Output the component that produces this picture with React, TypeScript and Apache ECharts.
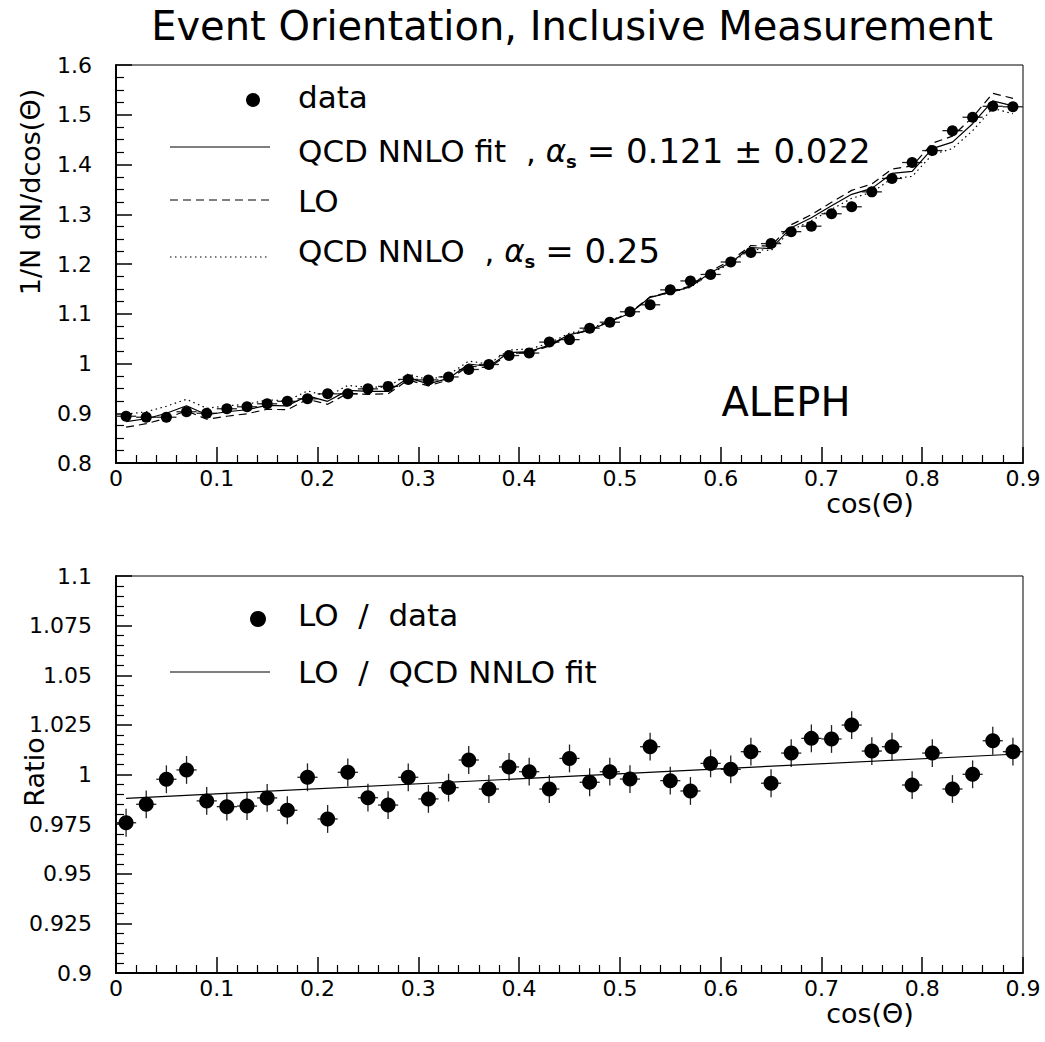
import React, { useEffect, useRef } from "react";
import * as echarts from "echarts";

const FONT = "DejaVu Sans";

const X_CENTERS = [
  0.01, 0.03, 0.05, 0.07, 0.09, 0.11, 0.13, 0.15, 0.17, 0.19,
  0.21, 0.23, 0.25, 0.27, 0.29, 0.31, 0.33, 0.35, 0.37, 0.39,
  0.41, 0.43, 0.45, 0.47, 0.49, 0.51, 0.53, 0.55, 0.57, 0.59,
  0.61, 0.63, 0.65, 0.67, 0.69, 0.71, 0.73, 0.75, 0.77, 0.79,
  0.81, 0.83, 0.85, 0.87, 0.89,
];

const DATA_VALUES = [
  0.894, 0.892, 0.892, 0.903, 0.9, 0.909, 0.913, 0.919, 0.924, 0.929,
  0.939, 0.939, 0.949, 0.954, 0.968, 0.967, 0.973, 0.988, 0.998, 1.016,
  1.021, 1.043, 1.048, 1.071, 1.083, 1.104, 1.118, 1.148, 1.166, 1.179,
  1.204, 1.223, 1.241, 1.265, 1.276, 1.301, 1.315, 1.345, 1.372, 1.404,
  1.428, 1.468, 1.495, 1.517, 1.516,
];

const FIT_VALUES = [
  0.883, 0.889, 0.9, 0.915, 0.897, 0.903, 0.907, 0.916, 0.915, 0.935,
  0.924, 0.946, 0.944, 0.944, 0.971, 0.959, 0.97, 0.999, 0.994, 1.022,
  1.024, 1.037, 1.058, 1.067, 1.084, 1.101, 1.133, 1.143, 1.154, 1.183,
  1.203, 1.233, 1.231, 1.273, 1.293, 1.317, 1.34, 1.352, 1.382, 1.386,
  1.432, 1.445, 1.482, 1.528, 1.518,
];

const LO_VALUES = [
  0.872, 0.879, 0.89, 0.905, 0.888, 0.894, 0.899, 0.908, 0.907, 0.928,
  0.918, 0.94, 0.938, 0.939, 0.967, 0.955, 0.967, 0.995, 0.991, 1.02,
  1.022, 1.035, 1.057, 1.067, 1.085, 1.102, 1.134, 1.144, 1.156, 1.186,
  1.207, 1.237, 1.236, 1.279, 1.299, 1.324, 1.348, 1.361, 1.391, 1.397,
  1.443, 1.457, 1.495, 1.543, 1.533,
];

const NNLO_025_VALUES = [
  0.898, 0.903, 0.914, 0.928, 0.91, 0.915, 0.918, 0.927, 0.925, 0.945,
  0.934, 0.956, 0.952, 0.953, 0.979, 0.967, 0.977, 1.005, 0.999, 1.027,
  1.029, 1.041, 1.061, 1.07, 1.086, 1.102, 1.133, 1.143, 1.153, 1.181,
  1.201, 1.23, 1.227, 1.268, 1.287, 1.31, 1.332, 1.344, 1.372, 1.376,
  1.42, 1.432, 1.468, 1.513, 1.502,
];

const RATIO_VALUES = [
  0.9757, 0.985, 0.9976, 1.0023, 0.9867, 0.9838, 0.9841, 0.9882, 0.982, 0.9986,
  0.9776, 1.0011, 0.9883, 0.9846, 0.9986, 0.9877, 0.9934, 1.0073, 0.9927, 1.0038,
  1.0014, 0.9927, 1.0081, 0.9961, 1.0014, 0.9977, 1.014, 0.9969, 0.9917, 1.0056,
  1.0026, 1.0115, 0.9956, 1.0108, 1.0182, 1.0179, 1.0249, 1.0118, 1.014, 0.9947,
  1.0108, 0.9927, 1.0001, 1.017, 1.0115,
];

const RATIO_FIT_X = [0.01, 0.89];
const RATIO_FIT_Y = [0.988, 1.0102];

const BIN_HALF = 0.01;
const DATA_ERR = 0.004;
const RATIO_ERR = 0.007;

const fmt = (v: number) => String(Number(v.toFixed(3)));

function errRender(params: any, api: any) {
  const x = api.value(0);
  const y = api.value(1);
  const ex = api.value(2);
  const ey = api.value(3);
  const l = api.coord([x - ex, y]);
  const r = api.coord([x + ex, y]);
  const t = api.coord([x, y + ey]);
  const b = api.coord([x, y - ey]);
  const st = { stroke: "#222", lineWidth: 1.3 };
  return {
    type: "group",
    children: [
      { type: "line", shape: { x1: l[0], y1: l[1], x2: r[0], y2: r[1] }, style: st },
      { type: "line", shape: { x1: t[0], y1: t[1], x2: b[0], y2: b[1] }, style: st },
    ],
  };
}

function xAxisCfg(gridIndex: number) {
  return {
    type: "value",
    gridIndex,
    min: 0,
    max: 0.9,
    interval: 0.1,
    axisLine: { show: true, onZero: false, lineStyle: { color: "#000", width: 2 } },
    axisTick: { show: true, inside: true, length: 16, lineStyle: { color: "#000", width: 1.5 } },
    minorTick: { show: true, splitNumber: 5, length: 8, lineStyle: { color: "#000", width: 1.2 } },
    splitLine: { show: false },
    minorSplitLine: { show: false },
    axisLabel: { formatter: fmt, fontFamily: FONT, fontSize: 22, lineHeight: 20, color: "#000", margin: 5 },
  };
}

function yAxisCfg(gridIndex: number, min: number, max: number, interval: number, minorSplit: number) {
  return {
    type: "value",
    gridIndex,
    min,
    max,
    interval,
    axisLine: { show: true, onZero: false, lineStyle: { color: "#000", width: 2 } },
    axisTick: { show: true, inside: true, length: 16, lineStyle: { color: "#000", width: 1.5 } },
    minorTick: { show: true, splitNumber: minorSplit, length: 8, lineStyle: { color: "#000", width: 1.2 } },
    splitLine: { show: false },
    minorSplitLine: { show: false },
    axisLabel: { formatter: fmt, fontFamily: FONT, fontSize: 22, color: "#000", margin: 24 },
  };
}

function legendText(x: number, y: number, text: string) {
  return {
    type: "text",
    x,
    y,
    style: {
      text,
      fontFamily: FONT,
      fontSize: 31,
      fill: "#000",
      verticalAlign: "middle",
      align: "left",
      lineHeight: 38,
      rich: {
        a: { fontFamily: FONT, fontSize: 31, fontStyle: "italic", fill: "#000", lineHeight: 38 },
        s: { fontFamily: FONT, fontSize: 18, fontWeight: "bold", fill: "#000", lineHeight: 18, verticalAlign: "bottom" },
        n: { fontFamily: FONT, fontSize: 34, fill: "#000", lineHeight: 38 },
      },
    },
  };
}

export default function App() {
  const ref = useRef<HTMLDivElement>(null);

  useEffect(() => {
    if (!ref.current) return;
    const chart = echarts.init(ref.current, null, { renderer: "svg" });

    const topData = X_CENTERS.map((x, i) => [x, DATA_VALUES[i]]);
    const topErr = X_CENTERS.map((x, i) => [x, DATA_VALUES[i], BIN_HALF, DATA_ERR]);
    const ratioData = X_CENTERS.map((x, i) => [x, RATIO_VALUES[i]]);
    const ratioErr = X_CENTERS.map((x, i) => [x, RATIO_VALUES[i], BIN_HALF, RATIO_ERR]);
    const ratioFit = RATIO_FIT_X.map((x, i) => [x, RATIO_FIT_Y[i]]);

    const option: any = {
      animation: false,
      backgroundColor: "#fff",
      grid: [
        { left: 116, top: 65, right: 22, bottom: 579, show: true, borderColor: "#000", borderWidth: 1, backgroundColor: "transparent" },
        { left: 116, top: 576, right: 22, bottom: 69, show: true, borderColor: "#000", borderWidth: 1, backgroundColor: "transparent" },
      ],
      xAxis: [xAxisCfg(0), xAxisCfg(1)],
      yAxis: [yAxisCfg(0, 0.8, 1.6, 0.1, 4), yAxisCfg(1, 0.9, 1.1, 0.025, 5)],
      series: [
        {
          name: "QCD NNLO fit",
          type: "line",
          xAxisIndex: 0,
          yAxisIndex: 0,
          data: X_CENTERS.map((x, i) => [x, FIT_VALUES[i]]),
          symbol: "none",
          lineStyle: { color: "#000", width: 1.2, type: "solid" },
        },
        {
          name: "LO",
          type: "line",
          xAxisIndex: 0,
          yAxisIndex: 0,
          data: X_CENTERS.map((x, i) => [x, LO_VALUES[i]]),
          symbol: "none",
          lineStyle: { color: "#000", width: 1.2, type: [8, 5] },
        },
        {
          name: "QCD NNLO 0.25",
          type: "line",
          xAxisIndex: 0,
          yAxisIndex: 0,
          data: X_CENTERS.map((x, i) => [x, NNLO_025_VALUES[i]]),
          symbol: "none",
          lineStyle: { color: "#000", width: 1.2, type: [1.5, 3.5] },
        },
        {
          name: "data err",
          type: "custom",
          xAxisIndex: 0,
          yAxisIndex: 0,
          renderItem: errRender,
          data: topErr,
          encode: { x: 0, y: 1 },
          z: 3,
        },
        {
          name: "data",
          type: "scatter",
          xAxisIndex: 0,
          yAxisIndex: 0,
          data: topData,
          symbol: "circle",
          symbolSize: 11,
          itemStyle: { color: "#000", opacity: 1 },
          z: 4,
        },
        {
          name: "LO / QCD NNLO fit",
          type: "line",
          xAxisIndex: 1,
          yAxisIndex: 1,
          data: ratioFit,
          symbol: "none",
          lineStyle: { color: "#000", width: 1.2 },
        },
        {
          name: "ratio err",
          type: "custom",
          xAxisIndex: 1,
          yAxisIndex: 1,
          renderItem: errRender,
          data: ratioErr,
          encode: { x: 0, y: 1 },
          z: 3,
        },
        {
          name: "LO / data",
          type: "scatter",
          xAxisIndex: 1,
          yAxisIndex: 1,
          data: ratioData,
          symbol: "circle",
          symbolSize: 15,
          itemStyle: { color: "#000", opacity: 1 },
          z: 4,
        },
      ],
      graphic: [
        {
          type: "text",
          x: 572,
          y: 26,
          style: { text: "Event Orientation, Inclusive Measurement", fontFamily: FONT, fontSize: 40, fill: "#000", align: "center", verticalAlign: "middle" },
        },
        {
          type: "text",
          x: 30,
          y: 192,
          rotation: Math.PI / 2,
          style: { text: "1/N dN/dcos(Θ)", fontFamily: FONT, fontSize: 27, fill: "#000", align: "center", verticalAlign: "middle" },
        },
        {
          type: "text",
          x: 34,
          y: 772,
          rotation: Math.PI / 2,
          style: { text: "Ratio", fontFamily: FONT, fontSize: 27, fill: "#000", align: "center", verticalAlign: "middle" },
        },
        {
          type: "text",
          x: 870,
          y: 503,
          style: { text: "cos(Θ)", fontFamily: FONT, fontSize: 27, fill: "#000", align: "center", verticalAlign: "middle" },
        },
        {
          type: "text",
          x: 870,
          y: 1013,
          style: { text: "cos(Θ)", fontFamily: FONT, fontSize: 27, fill: "#000", align: "center", verticalAlign: "middle" },
        },
        {
          type: "text",
          x: 786,
          y: 402,
          style: { text: "ALEPH", fontFamily: FONT, fontSize: 40, fill: "#000", align: "center", verticalAlign: "middle" },
        },
        // top legend
        { type: "circle", shape: { cx: 253, cy: 100, r: 7 }, style: { fill: "#000" } },
        legendText(298, 97, "data"),
        { type: "line", shape: { x1: 170, y1: 147, x2: 270, y2: 147 }, style: { stroke: "#000", lineWidth: 1.2 } },
        legendText(298, 151, "QCD NNLO fit  , {a|α}{s|s} {n|= 0.121 ± 0.022}"),
        { type: "line", shape: { x1: 170, y1: 200, x2: 270, y2: 200 }, style: { stroke: "#000", lineWidth: 1.2, lineDash: [8, 5] } },
        legendText(298, 201, "LO"),
        { type: "line", shape: { x1: 170, y1: 257, x2: 270, y2: 257 }, style: { stroke: "#000", lineWidth: 1.2, lineDash: [1.5, 3.5] } },
        legendText(298, 251, "QCD NNLO  , {a|α}{s|s} {n|= 0.25}"),
        // bottom legend
        { type: "circle", shape: { cx: 258, cy: 619, r: 8 }, style: { fill: "#000" } },
        legendText(298, 615, "LO  /  data"),
        { type: "line", shape: { x1: 170, y1: 672, x2: 270, y2: 672 }, style: { stroke: "#000", lineWidth: 1.2 } },
        legendText(298, 672, "LO  /  QCD NNLO fit"),
      ],
    };

    chart.setOption(option);
    return () => chart.dispose();
  }, []);

  return (
    <div
      ref={ref}
      style={{ position: "fixed", left: 0, top: 0, width: 1045, height: 1042, background: "#fff" }}
    />
  );
}
